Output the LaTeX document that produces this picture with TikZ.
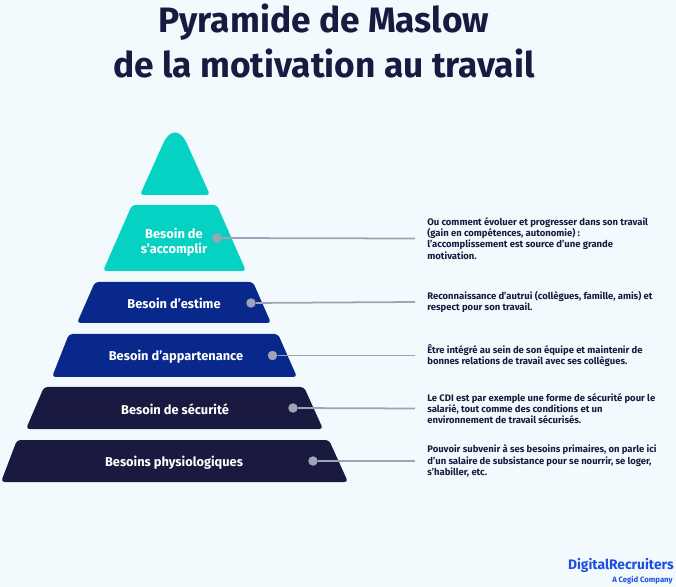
\documentclass[tikz,border=0pt]{standalone}
\usepackage{fontspec}
\setmainfont{Fira Sans}
\usepackage{xcolor}
\definecolor{paleback}{HTML}{F2FAFE}
\definecolor{tealtier}{HTML}{06D2C4}
\definecolor{bluetier}{HTML}{08288C}
\definecolor{navytier}{HTML}{1A1A40}
\definecolor{dotgray}{HTML}{9EA3B5}
\definecolor{logoblue}{HTML}{1F4FE0}
\tikzset{
    tier/.style={rounded corners=2pt},
    tierlabel/.style={text=white, font=\fontsize{7.3}{8.4}\selectfont\bfseries, align=center},
    dot/.style={circle, fill=dotgray, inner sep=0pt, minimum size=0.19cm},
    desc/.style={anchor=west, align=left, inner xsep=0.24cm, inner ysep=0pt, text=navytier,
        font=\fontsize{5.4}{6.35}\selectfont\bfseries},
    link/.style={draw=dotgray, line width=1pt},
    titletext/.style={text=navytier, font=\fontsize{20.1}{24}\selectfont\bfseries},
}
\begin{document}
\begin{tikzpicture}[x=0.02cm, y=-0.02cm]
        % Background
        \fill[paleback] (0,0) rectangle (676,587);
        \useasboundingbox (0,0) rectangle (676,587);

        % Title
        \node[titletext] (title1) at (324,22) {Pyramide de Maslow};
        \node[titletext] (title2) at (324,63) {de la motivation au travail};

        % Top of the pyramid
        \fill[tier, tealtier] (175,195) -- (210,195) -- (188,146)
            .. controls (180,129) and (170,129) .. (162,146) -- (140,195) -- cycle;

        % Tiers: top y / bottom y / top left / top right / bottom left / bottom right / colour
        \foreach \ya/\yb/\tl/\tr/\bl/\br/\col in {
            205/271/132/217/103/246/tealtier,
            282/323/95/253/77/271/bluetier,
            334/377/69/278/52/297/bluetier,
            387/429/44/304/26/323/navytier,
            440/482/17/329/1/348/navytier}
            \fill[tier, \col] (\tl,\ya) -- (\tr,\ya) -- (\br,\yb) -- (\bl,\yb) -- cycle;

        % Tier labels
        \node[tierlabel] (accomplir) at (174,242.5) {Besoin de\\s’accomplir};
        \node[tierlabel] (estime) at (174,303.5) {Besoin d’estime};
        \node[tierlabel] (appartenance) at (176,356.5) {Besoin d’appartenance};
        \node[tierlabel] (securite) at (175,409) {Besoin de sécurité};
        \node[tierlabel] (physio) at (174,462.5) {Besoins physiologiques};

        % Dots
        \node[dot] (dot1) at (217,238) {};
        \node[dot] (dot2) at (251,303) {};
        \node[dot] (dot3) at (272.5,355.5) {};
        \node[dot] (dot4) at (293,408) {};
        \node[dot] (dot5) at (313,461) {};

        % Descriptions
        \node[desc] (desc1) at (415,238.5) {Ou comment évoluer et progresser dans son travail\\(gain en compétences, autonomie) :\\l’accomplissement est source d’une grande\\motivation.};
        \node[desc] (desc2) at (415,302) {Reconnaissance d’autrui (collègues, famille, amis) et\\respect pour son travail.};
        \node[desc] (desc3) at (415,355.5) {Être intégré au sein de son équipe et maintenir de\\bonnes relations de travail avec ses collègues.};
        \node[desc] (desc4) at (415,408.5) {Le CDI est par exemple une forme de sécurité pour le\\salarié, tout comme des conditions et un\\environnement de travail sécurisés.};
        \node[desc] (desc5) at (415,461) {Pouvoir subvenir à ses besoins primaires, on parle ici\\d’un salaire de subsistance pour se nourrir, se loger,\\s’habiller, etc.};

        % Connectors
        \foreach \i in {1,2,3,4,5}
            \draw[link] (dot\i) -- (desc\i.west);

        % Logo
        \node[anchor=east, inner sep=0pt, text=logoblue, font=\fontsize{7.85}{9}\selectfont\bfseries] (logo) at (674,565) {DigitalRecruiters};
        \node[anchor=east, inner sep=0pt, text=logoblue, font=\fontsize{4.4}{5}\selectfont\bfseries] (cegid) at (673,580) {A Cegid Company};
    \end{tikzpicture}
\end{document}
